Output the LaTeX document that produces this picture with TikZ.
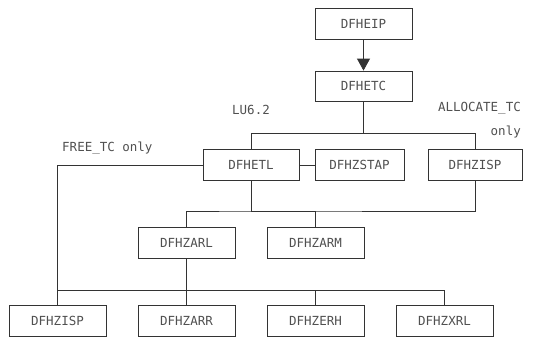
\documentclass[tikz,border=0pt]{standalone}
\usepackage{fontspec}
\setmonofont{DejaVu Sans Mono}
\usetikzlibrary{arrows.meta}
\definecolor{ink}{HTML}{333333}
\definecolor{txt}{HTML}{505050}
\begin{document}
\begin{tikzpicture}[x=1pt,y=-1pt,
  box/.style={draw=ink, line width=0.8pt, minimum width=97pt, minimum height=31pt, inner sep=0pt, text=txt, font=\ttfamily\fontsize{12.5}{14}\selectfont},
  lbl/.style={inner sep=0pt, text=txt, font=\ttfamily\fontsize{12.5}{14}\selectfont},
  conn/.style={draw=ink, line width=0.8pt}]
\useasboundingbox (0,0) rectangle (548,337);
% nodes
\node[box] (eip) at (363.5,23.5) {DFHEIP};
\node[box, minimum height=30pt] (etc) at (363.5,86) {DFHETC};
\node[box, minimum width=96pt] (etl) at (251,165) {DFHETL};
\node[box, minimum width=89pt] (stap) at (359.5,165) {DFHZSTAP};
\node[box, minimum width=94pt] (zisp1) at (475,165) {DFHZISP};
\node[box] (zarl) at (186.5,242.5) {DFHZARL};
\node[box] (zarm) at (315.5,242.5) {DFHZARM};
\node[box] (zisp2) at (57.5,320.5) {DFHZISP};
\node[box] (zarr) at (186.5,320.5) {DFHZARR};
\node[box] (zerh) at (315.5,320.5) {DFHZERH};
\node[box] (zxrl) at (444.5,320.5) {DFHZXRL};
% labels
\node[lbl] (lu) at (251,110) {LU6.2};
\node[lbl, anchor=east] (alloc) at (521,108) {ALLOCATE\_TC};
\node[lbl, anchor=east] (only) at (521,132) {only};
\node[lbl, anchor=west] (free) at (62,148.5) {FREE\_TC only};
% bus coordinates
\coordinate (b1) at (363.5,133);
\coordinate (m) at (251,211);
\coordinate (bb) at (186.5,290);
% connectors
\draw[conn, -{Triangle[length=12pt,width=13pt]}] (eip) -- (etc);
\draw[conn] (etc) -- (b1);
\draw[conn] (b1) -| (etl.north);
\draw[conn] (b1) -| (zisp1.north);
\draw[conn] (etl) -- (stap);
\draw[conn] (etl.west) -| (zisp2.north);
\draw[conn] (etl.south) -- (m);
\draw[conn] (zarl.north) |- (m) -| (zisp1.south);
\draw[conn] (m) -| (zarm.north);
\draw[conn] (zarl.south) -- (zarr.north);
\draw[conn] (zisp2.north |- bb) -| (zxrl.north);
\draw[conn] (bb -| zerh.north) -- (zerh.north);
\end{tikzpicture}
\end{document}
